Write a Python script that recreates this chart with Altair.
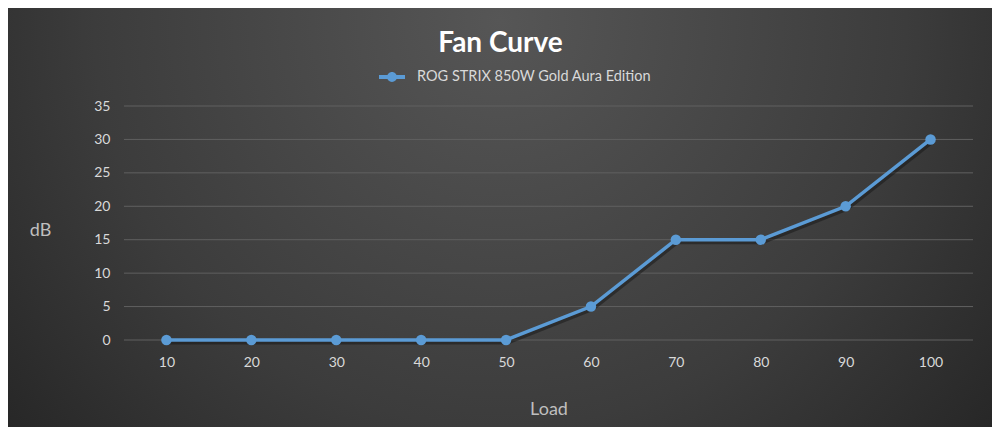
import pandas as pd
import altair as alt

# values
load = [10, 20, 30, 40, 50, 60, 70, 80, 90, 100]
db = [0, 0, 0, 0, 0, 5, 15, 15, 20, 30]
series_name = "ROG STRIX 850W Gold Aura Edition"
y_ticks = [0, 5, 10, 15, 20, 25, 30, 35]

blue = "#5b9bd5"
font = "Lato"

df = pd.DataFrame({"load": load, "db": db, "series": series_name})
grid_df = pd.DataFrame({"v": y_ticks})
bg_df = pd.DataFrame({"a": [0]})

W, H = 849, 234
PAD = {"left": 116, "top": 98, "right": 19, "bottom": 87}

y_scale = alt.Scale(domain=[0, 35], nice=False)
y_axis = alt.Axis(title="dB", values=y_ticks, labelFontSize=14,
                  labelColor="#d9d9d9", labelFont=font, labelPadding=14,
                  ticks=False, domain=False, grid=False, zindex=1,
                  titleFontSize=18, titleColor="#bfbfbf", titleFont=font,
                  titleFontWeight="normal", titleAngle=0, titleX=-84,
                  titleY=124, titleAlign="center", titleBaseline="middle")

x_enc = alt.X("load:O", sort=load,
              scale=alt.Scale(type="point", padding=0.5),
              axis=alt.Axis(title="Load", labelAngle=0, labelFontSize=14,
                            labelColor="#d9d9d9", labelFont=font, labelPadding=15,
                            ticks=False, domain=False, grid=False, zindex=1,
                            titleFontSize=18, titleColor="#bfbfbf", titleFont=font,
                            titleFontWeight="normal", titleY=69, titleBaseline="middle"))
y_enc = alt.Y("db:Q", scale=y_scale, axis=y_axis)

gradient = {
    "gradient": "radial",
    "x1": 0.5, "y1": 0.3, "r1": 0,
    "x2": 0.5, "y2": 0.3, "r2": 0.75,
    "stops": [
        {"offset": 0, "color": "#565656"},
        {"offset": 0.55, "color": "#3c3c3c"},
        {"offset": 1, "color": "#1e1e1e"},
    ],
}

background = alt.Chart(bg_df).mark_rect(fill=gradient).encode(
    x=alt.value(-PAD["left"]), x2=alt.value(W + PAD["right"]),
    y=alt.value(-PAD["top"]), y2=alt.value(H + PAD["bottom"]),
)

grid = alt.Chart(grid_df).mark_rule(color="#606060", strokeWidth=1).encode(
    y=alt.Y("v:Q", scale=y_scale, axis=y_axis, title="dB")
)

shadow = alt.Chart(df).mark_line(color="#111111", opacity=0.45, strokeWidth=4,
                                 xOffset=1.5, yOffset=2.5).encode(x=x_enc, y=y_enc)

line = alt.Chart(df).mark_line(strokeWidth=3.5).encode(
    x=x_enc, y=y_enc,
    color=alt.Color("series:N", scale=alt.Scale(domain=[series_name], range=[blue]),
                    legend=alt.Legend(title=None, orient="none", legendX=255, legendY=-42,
                                      symbolType="M-1,-0.15H1V0.15H-1Z M0.38,0 A0.38,0.38 0 1,1 -0.38,0 A0.38,0.38 0 1,1 0.38,0Z",
                                      symbolSize=676, symbolFillColor=blue,
                                      symbolStrokeWidth=0, symbolOpacity=1,
                                      labelFontSize=14.5, labelColor="#d9d9d9",
                                      labelFont=font, labelOffset=12, labelLimit=400)),
)

points = alt.Chart(df).mark_circle(size=110, color=blue, opacity=1).encode(x=x_enc, y=y_enc)

chart = alt.layer(background, grid, shadow, line, points).properties(
    width=W, height=H,
    autosize=alt.AutoSizeParams(type="none"),
    padding=PAD,
    background="#2b2b2b",
    title=alt.Title("Fan Curve", fontSize=28, fontWeight="bold", color="white",
                    font=font, anchor="middle", dx=-48, dy=50, offset=0),
).configure_view(stroke=None)

chart.save("out.html", embed_options={"renderer": "svg", "actions": False})
